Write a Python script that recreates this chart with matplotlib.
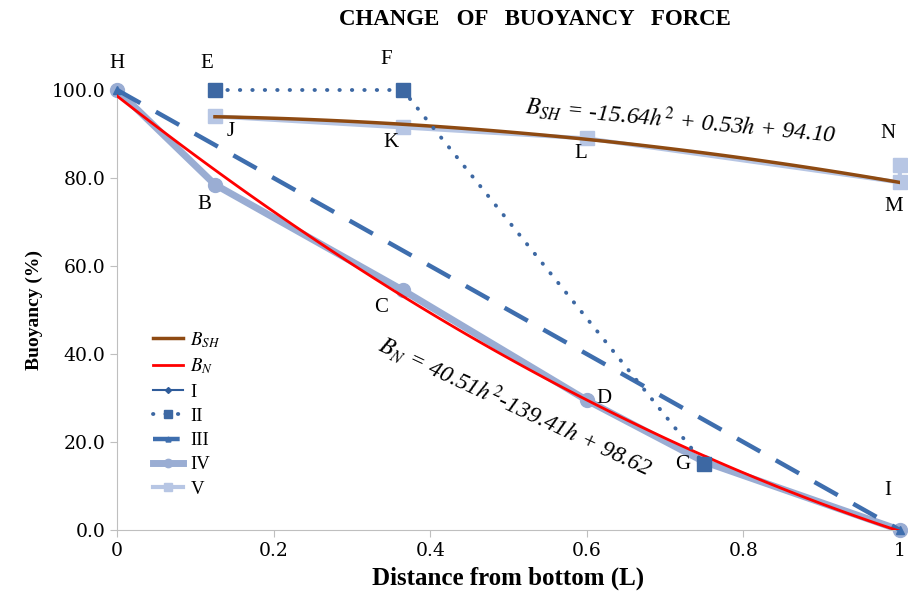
import numpy as np
import matplotlib as mpl
mpl.use('Agg')
import matplotlib.pyplot as plt

plt.rcParams['font.family'] = 'Liberation Serif'
plt.rcParams['mathtext.fontset'] = 'stix'

# series
x1 = [0.125, 0.365, 0.6, 1.0]
y1 = [94.0, 91.5, 89.0, 79.0]
x2 = [0.125, 0.365, 0.75]
y2 = [100.0, 100.0, 15.0]
x3 = [0.0, 1.0]
y3 = [100.0, 0.0]
x4 = [0.0, 0.125, 0.365, 0.6, 0.75, 1.0]
y4 = [100.0, 78.5, 54.5, 29.5, 15.5, 0.0]
x5 = [0.125, 0.365, 0.6, 1.0, 1.0]
y5 = [94.0, 91.5, 89.0, 79.0, 83.0]

# fitted trend lines (coefficients printed on the chart)
coef_sh = [-15.64, 0.53, 94.10]
coef_n = [40.51, -139.41, 98.62]

point_names = ['H', 'E', 'F', 'J', 'K', 'L', 'N', 'M', 'B', 'C', 'D', 'G', 'I']
point_pos = [(0.0, 106.0), (0.114, 106.0), (0.344, 107.0), (0.145, 90.5),
             (0.35, 88.0), (0.592, 85.5), (0.985, 90.0), (0.992, 73.5),
             (0.112, 74.0), (0.337, 50.5), (0.622, 30.0), (0.722, 15.0),
             (0.984, 9.0)]

xticks = [0, 0.2, 0.4, 0.6, 0.8, 1.0]
xticklabels = ['0', '0.2', '0.4', '0.6', '0.8', '1']
yticks = [0, 20, 40, 60, 80, 100]

fig = plt.figure(figsize=(9.08, 5.98), dpi=100)
ax = fig.add_axes([0.129, 0.1137, 0.862, 0.7358])

ax.plot(x4, y4, color='#9AADD3', lw=5, marker='o', ms=10, label='IV',
        clip_on=False, zorder=2)
ax.plot(x5, y5, color='#B7C6E4', lw=3, marker='s', ms=10, label='V',
        clip_on=False, zorder=2)
ax.plot(x1, y1, color='#2F5C9A', lw=1.5, marker='D', ms=5, label='I',
        clip_on=False, zorder=1)

hs = np.linspace(0.125, 1.0, 100)
ax.plot(hs, np.polyval(coef_sh, hs), color='#8E4A12', lw=2.5,
        label='$B_{SH}$', zorder=4)
hn = np.linspace(0.0, 1.0, 100)
ax.plot(hn, np.polyval(coef_n, hn), color='#FF0000', lw=2,
        label='$B_N$', zorder=4)

ax.plot(x3, y3, color='#3E6EAE', lw=3.2, ls=(0, (6, 4)), marker='^', ms=6,
        label='III', clip_on=False, zorder=3)
ax.plot(x2, y2, color='#3D68A3', lw=2.8, ls=(0, (0.1, 3.1)),
        dash_capstyle='round', marker='s', ms=10, label='II',
        clip_on=False, zorder=5)

for name, (px, py) in zip(point_names, point_pos):
    ax.text(px, py, name, fontsize=15, ha='center', va='center')

ax.text(0.522, 96.5, '$B_{SH}$ = -15.64$h^2$ + 0.53$h$ + 94.10',
        fontsize=17, style='italic', rotation=-5.3, ha='left', va='center',
        rotation_mode='anchor')
ax.text(0.336, 42.5, '$B_N$ = 40.51$h^2$-139.41$h$ + 98.62',
        fontsize=17, style='italic', rotation=-25.0, ha='left', va='center',
        rotation_mode='anchor')

ax.set_xlim(0, 1)
ax.set_ylim(0, 100)
ax.set_xticks(xticks)
ax.set_xticklabels(xticklabels)
ax.set_yticks(yticks)
ax.set_yticklabels(['%.1f' % v for v in yticks])
ax.tick_params(labelsize=13.5, color='#BFBFBF', length=5)
for t in ax.get_xticklabels() + ax.get_yticklabels():
    t.set_family('DejaVu Serif')
for s in ['top', 'right']:
    ax.spines[s].set_visible(False)
for s in ['left', 'bottom']:
    ax.spines[s].set_color('#BFBFBF')

ax.set_xlabel('Distance from bottom (L)', fontsize=18, fontweight='bold',
              labelpad=5)
ax.set_ylabel('Buoyancy (%)', fontsize=14, fontweight='bold', labelpad=6)
fig.text(0.589, 0.968, 'CHANGE   OF   BUOYANCY   FORCE', fontsize=16.5,
         fontweight='bold', ha='center', va='center')

handles, labels = ax.get_legend_handles_labels()
order = ['$B_{SH}$', '$B_N$', 'I', 'II', 'III', 'IV', 'V']
hmap = dict(zip(labels, handles))
ax.legend([hmap[k] for k in order], order, loc='lower left',
          bbox_to_anchor=(0.024, 0.035), frameon=False, fontsize=13.5,
          handlelength=1.6, handletextpad=0.4, labelspacing=0.38,
          markerscale=0.6)

plt.savefig('out.png', dpi=100)
